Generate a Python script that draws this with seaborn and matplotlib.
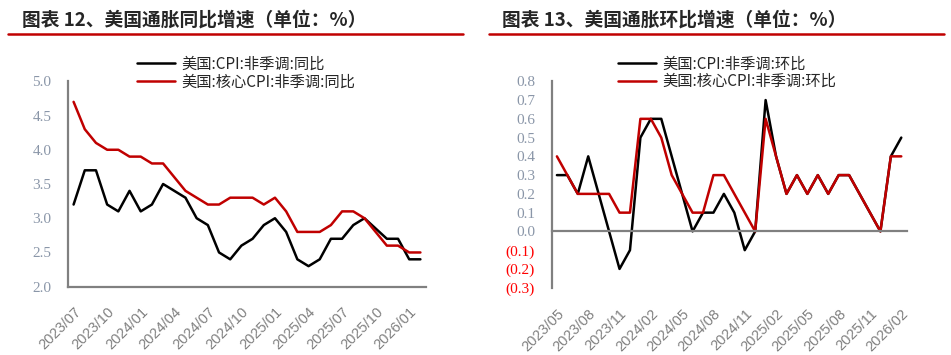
import pandas as pd
import numpy as np
import matplotlib
matplotlib.use("Agg")
import matplotlib.pyplot as plt
from matplotlib.lines import Line2D
from matplotlib.ticker import FixedLocator
import seaborn as sns

# Data
months_yoy = [p.strftime("%Y/%m") for p in pd.period_range("2023-07", "2026-02", freq="M")]
cpi_yoy = [3.2, 3.7, 3.7, 3.2, 3.1, 3.4,
           3.1, 3.2, 3.5, 3.4, 3.3, 3.0, 2.9, 2.5, 2.4, 2.6, 2.7, 2.9,
           3.0, 2.8, 2.4, 2.3, 2.4, 2.7, 2.7, 2.9, 3.0, None, 2.7, 2.7,
           2.4, 2.4]
core_yoy = [4.7, 4.3, 4.1, 4.0, 4.0, 3.9,
            3.9, 3.8, 3.8, 3.6, 3.4, 3.3, 3.2, 3.2, 3.3, 3.3, 3.3, 3.2,
            3.3, 3.1, 2.8, 2.8, 2.8, 2.9, 3.1, 3.1, 3.0, None, 2.6, 2.6,
            2.5, 2.5]

months_mom = [p.strftime("%Y/%m") for p in pd.period_range("2023-05", "2026-02", freq="M")]
cpi_mom = [0.3, 0.3, 0.2, 0.4, 0.2, 0.0, -0.2, -0.1,
           0.5, 0.6, 0.6, 0.4, 0.2, 0.0, 0.1, 0.1, 0.2, 0.1, -0.1, 0.0,
           0.7, 0.4, 0.2, 0.3, 0.2, 0.3, 0.2, 0.3, 0.3, None, None, 0.0,
           0.4, 0.5]
core_mom = [0.4, 0.3, 0.2, 0.2, 0.2, 0.2, 0.1, 0.1,
            0.6, 0.6, 0.5, 0.3, 0.2, 0.1, 0.1, 0.3, 0.3, 0.2, 0.1, 0.0,
            0.6, 0.4, 0.2, 0.3, 0.2, 0.3, 0.2, 0.3, 0.3, None, None, 0.0,
            0.4, 0.4]

labels_yoy = ["美国:CPI:非季调:同比", "美国:核心CPI:非季调:同比"]
labels_mom = ["美国:CPI:非季调:环比", "美国:核心CPI:非季调:环比"]

sns.set_style("white")
plt.rcParams["font.family"] = ["Noto Sans CJK SC", "DejaVu Sans"]

BLACK = "#000000"
RED = "#C00000"
GRAY = "#808080"
TICK_GRAY = "#8a96a8"


def long_frame(months, s1, s2, names):
    df = pd.DataFrame({"month": months, names[0]: s1, names[1]: s2})
    df["x"] = np.arange(len(months))
    df = df.melt(id_vars=["month", "x"], var_name="series", value_name="value")
    df["value"] = pd.to_numeric(df["value"])
    return df.dropna()


def style_axis(ax, months, bottom_pad):
    n = len(months)
    ax.set_xlim(-0.5, n - 0.5)
    for s in ["top", "right"]:
        ax.spines[s].set_visible(False)
    for s in ["left", "bottom"]:
        ax.spines[s].set_color(GRAY)
        ax.spines[s].set_linewidth(1.6)
    # labels at category centres, tick marks at category boundaries
    idx = list(range(0, n, 3))
    ax.xaxis.set_major_locator(FixedLocator(idx))
    ax.set_xticklabels([months[i] for i in idx], rotation=45, ha="right",
                       rotation_mode="anchor", fontsize=10.5, color=GRAY,
                       family="Liberation Sans")
    ax.xaxis.set_minor_locator(FixedLocator([i - 0.5 for i in idx]))
    ax.tick_params(axis="x", which="major", length=0, pad=bottom_pad)
    ax.tick_params(axis="x", which="minor", direction="in", length=4,
                   width=1.3, color=GRAY)
    ax.tick_params(axis="y", direction="in", length=4, width=1.3, color=GRAY,
                   pad=12)
    ax.set_xlabel("")
    ax.set_ylabel("")
    ax.grid(False)


def add_legend(ax, x):
    ax.legend(frameon=False, loc="upper left", bbox_to_anchor=(x, 1.155),
              fontsize=11, handlelength=2.5, handletextpad=0.4,
              labelspacing=0.05, borderaxespad=0)


fig = plt.figure(figsize=(9.51, 3.55), dpi=100)

# ---- left: YoY
ax1 = fig.add_axes([68 / 951, 1 - 286.7 / 355, 358 / 951, 205.4 / 355])
d1 = long_frame(months_yoy, cpi_yoy, core_yoy, labels_yoy)
sns.lineplot(data=d1, x="x", y="value", hue="series", hue_order=labels_yoy,
             palette=[BLACK, RED], linewidth=1.8, ax=ax1)
ax1.set_ylim(2.0, 5.0)
ax1.set_yticks(np.arange(2.0, 5.01, 0.5))
ax1.set_yticklabels([f"{v:.1f}" for v in np.arange(2.0, 5.01, 0.5)],
                    family="Liberation Serif", fontsize=11, color=TICK_GRAY)
style_axis(ax1, months_yoy, 13)
add_legend(ax1, 0.175)

# ---- right: MoM
ax2 = fig.add_axes([551.7 / 951, 1 - 287.7 / 355, 354.8 / 951, 206.4 / 355])
d2 = long_frame(months_mom, cpi_mom, core_mom, labels_mom)
sns.lineplot(data=d2, x="x", y="value", hue="series", hue_order=labels_mom,
             palette=[BLACK, RED], linewidth=1.8, ax=ax2)
ax2.set_ylim(-0.3, 0.8)
yt = np.round(np.arange(-0.3, 0.81, 0.1), 1)
ax2.set_yticks(yt)
ax2.set_yticklabels([f"({abs(v):.1f})" if v < 0 else f"{v:.1f}" for v in yt],
                    family="Liberation Serif", fontsize=11)
for lab, v in zip(ax2.get_yticklabels(), yt):
    lab.set_color("#FF0000" if v < 0 else TICK_GRAY)
ax2.spines["bottom"].set_position(("data", 0))
style_axis(ax2, months_mom, 54)
add_legend(ax2, 0.170)

# ---- titles and red rules
fig.text(22 / 951, 1 - 20 / 355, "图表 12、美国通胀同比增速（单位：%）",
         fontsize=13.5, fontweight="bold", va="center", ha="left")
fig.text(502 / 951, 1 - 20 / 355, "图表 13、美国通胀环比增速（单位：%）",
         fontsize=13.5, fontweight="bold", va="center", ha="left")
for x0, x1 in [(8, 463), (489, 944)]:
    fig.add_artist(Line2D([x0 / 951, x1 / 951], [1 - 34 / 355, 1 - 34 / 355],
                          color=RED, linewidth=1.8, transform=fig.transFigure))

fig.savefig("out.png", dpi=100)
